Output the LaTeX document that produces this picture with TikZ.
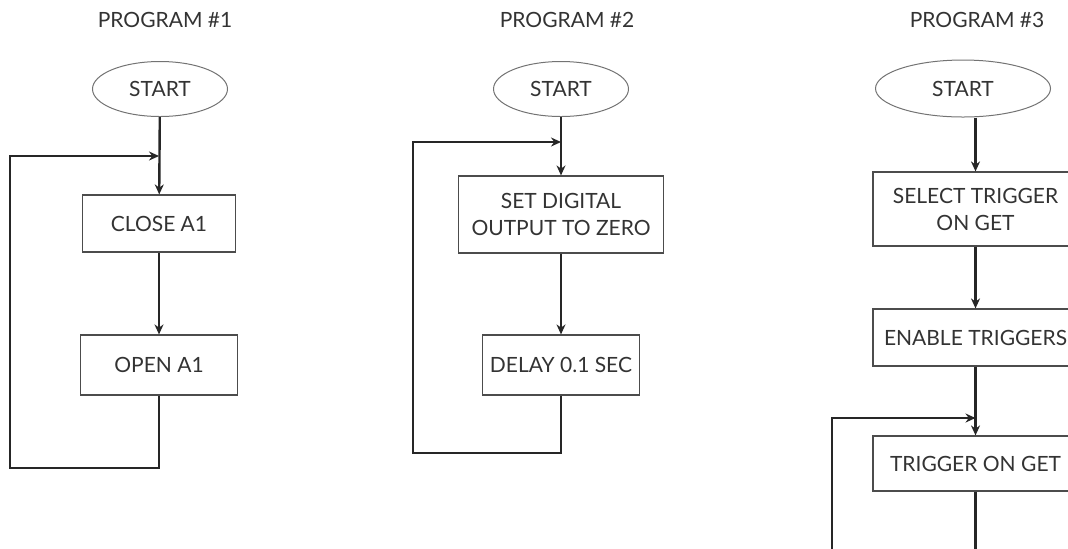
\documentclass[tikz,border=0pt]{standalone}
\usepackage{fontspec}
\setmainfont{Lato}
\usetikzlibrary{arrows.meta, positioning, shapes.geometric}

\begin{document}
\begin{tikzpicture}[x=0.5pt, y=-0.5pt, >={Stealth[length=5pt,width=4.5pt]},
    flow/.style={line width=1.2pt, black!85},
    startnode/.style={draw=black!55, line width=0.5pt, ellipse, inner sep=0pt, text=black!80, font=\fontsize{10.5}{12}\selectfont},
    stepbox/.style={draw=black!70, line width=0.6pt, rectangle, inner sep=0pt, align=center, text=black!80, font=\fontsize{10.5}{13.5}\selectfont},
    title/.style={font=\fontsize{10.5}{12}\selectfont, text=black!80}]

  \useasboundingbox (0,0) rectangle (1068,548);

  % Program 1
  \node[title] (p1) at (165,20) {PROGRAM \#1};
  \node[startnode, minimum width=67.5pt, minimum height=27.5pt] (s1) at (160,89) {START};
  \node[stepbox, minimum width=76.5pt, minimum height=28.5pt] (c1) at (159,223.5) {CLOSE A1};
  \node[stepbox, minimum width=78.5pt, minimum height=30pt] (o1) at (159,365) {OPEN A1};
  \coordinate (j1) at (159,156);
  \coordinate (b1) at (159,468);
  \coordinate (l1) at (10,156);

  \draw[flow, ->] (s1) -- (c1);
  \draw[flow, ->] (c1) -- (o1);
  \draw[flow, ->] (o1.south) -- (b1) -| (l1) -- (j1);

  % Program 2
  \node[title] (p2) at (567,20) {PROGRAM \#2};
  \node[startnode, minimum width=67.5pt, minimum height=27.5pt] (s2) at (561,89) {START};
  \node[stepbox, minimum width=102.5pt, minimum height=38.5pt] (d2) at (561,214.5) {SET DIGITAL\\OUTPUT TO ZERO};
  \node[stepbox, minimum width=78.5pt, minimum height=30pt] (w2) at (561,365) {DELAY 0.1 SEC};
  \coordinate (j2) at (561,142);
  \coordinate (b2) at (561,453);
  \coordinate (l2) at (413,142);

  \draw[flow, ->] (s2) -- (d2);
  \draw[flow, ->] (d2) -- (w2);
  \draw[flow, ->] (w2.south) -- (b2) -| (l2) -- (j2);

  % Program 3
  \node[title] (p3) at (977,20) {PROGRAM \#3};
  \node[startnode, minimum width=87.5pt, minimum height=28.5pt] (s3) at (963,88.5) {START};
  \node[stepbox, minimum width=102.5pt, minimum height=37pt] (t1) at (975.5,209) {SELECT TRIGGER\\ON GET};
  \node[stepbox, minimum width=102.5pt, minimum height=28.5pt] (t2) at (975.5,337.5) {ENABLE TRIGGERS};
  \node[stepbox, minimum width=102.5pt, minimum height=27.5pt] (t3) at (975.5,463.5) {TRIGGER ON GET};
  \coordinate (j3) at (975.5,418);
  \coordinate (b3) at (975.5,560);
  \coordinate (l3) at (832,418);
  \coordinate (e3) at (832,560);

  \draw[flow, ->] (s3.south -| t1.north) -- (t1);
  \draw[flow, ->] (t1) -- (t2);
  \draw[flow, ->] (t2) -- (t3);
  \draw[flow] (t3.south) -- (b3);
  \draw[flow, ->] (e3) -- (l3) -- (j3);

\end{tikzpicture}
\end{document}
